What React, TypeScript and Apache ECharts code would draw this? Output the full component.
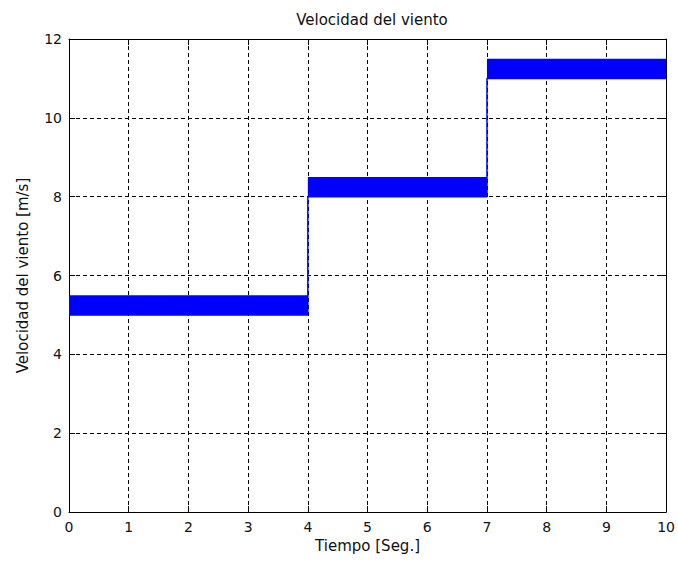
import React, { useEffect, useRef } from "react";
import * as echarts from "echarts";

// Wind speed steps: each segment oscillates densely between low and high
const segStart = [0, 4, 7];
const segEnd = [4, 7, 10];
const bandLow = [5, 8, 11];
const bandHigh = [5.5, 8.5, 11.5];

const xTicks = [0, 1, 2, 3, 4, 5, 6, 7, 8, 9, 10];
const yTicks = [0, 2, 4, 6, 8, 10, 12];

const FONT = "'DejaVu Sans', Arial, sans-serif";

export default function App() {
  const ref = useRef<HTMLDivElement>(null);

  useEffect(() => {
    if (!ref.current) return;
    const chart = echarts.init(ref.current, undefined, { renderer: "svg" });

    const bandData = segStart.map((s, i) => [s, segEnd[i], bandLow[i], bandHigh[i]]);
    const stepData: number[][] = [];
    segStart.forEach((s, i) => {
      stepData.push([s, bandLow[i]]);
      stepData.push([segEnd[i], bandLow[i]]);
    });

    const gridLine = { show: true, lineStyle: { color: "#000", type: [4, 3] as any, width: 1 } };
    const axisLine = { show: true, onZero: false, lineStyle: { color: "#000", width: 1 } };
    const tick = { show: true, inside: true, length: 6, lineStyle: { color: "#000" } };

    chart.setOption({
      animation: false,
      backgroundColor: "#fff",
      title: {
        text: "Velocidad del viento",
        left: 367,
        top: 7,
        textAlign: "center",
        textStyle: { fontFamily: FONT, fontSize: 15, fontWeight: "normal", color: "#111" },
      },
      grid: { left: 69, right: 8, top: 39, bottom: 53, containLabel: false },
      xAxis: [
        {
          type: "value",
          min: xTicks[0],
          max: xTicks[xTicks.length - 1],
          interval: 1,
          position: "bottom",
          name: "Tiempo [Seg.]",
          nameLocation: "middle",
          nameGap: 22,
          nameTextStyle: { fontFamily: FONT, fontSize: 15, color: "#111" },
          axisLine,
          axisTick: tick,
          axisLabel: { fontFamily: FONT, fontSize: 14, color: "#111", margin: 8 },
          splitLine: gridLine,
        },
        {
          type: "value",
          min: xTicks[0],
          max: xTicks[xTicks.length - 1],
          interval: 1,
          position: "top",
          axisLine,
          axisTick: tick,
          axisLabel: { show: false },
          splitLine: { show: false },
        },
      ],
      yAxis: [
        {
          type: "value",
          min: yTicks[0],
          max: yTicks[yTicks.length - 1],
          interval: 2,
          position: "left",
          name: "Velocidad del viento [m/s]",
          nameLocation: "middle",
          nameGap: 39,
          nameTextStyle: { fontFamily: FONT, fontSize: 15, color: "#111" },
          axisLine,
          axisTick: tick,
          axisLabel: { fontFamily: FONT, fontSize: 14, color: "#111", margin: 7 },
          splitLine: gridLine,
        },
        {
          type: "value",
          min: yTicks[0],
          max: yTicks[yTicks.length - 1],
          interval: 2,
          position: "right",
          axisLine,
          axisTick: tick,
          axisLabel: { show: false },
          splitLine: { show: false },
        },
      ],
      series: [
        {
          type: "custom",
          xAxisIndex: 0,
          yAxisIndex: 0,
          data: bandData,
          encode: { x: [0, 1], y: [2, 3] },
          renderItem: (_params: any, api: any) => {
            const p1 = api.coord([api.value(0), api.value(3)]);
            const p2 = api.coord([api.value(1), api.value(2)]);
            return {
              type: "rect",
              shape: { x: p1[0], y: p1[1], width: p2[0] - p1[0], height: p2[1] - p1[1] },
              style: { fill: "#0000ff" },
            };
          },
          z: 3,
        },
        {
          type: "line",
          xAxisIndex: 0,
          yAxisIndex: 0,
          data: stepData,
          showSymbol: false,
          lineStyle: { color: "#0000ff", width: 1.5 },
          z: 3,
        },
      ],
    });

    return () => chart.dispose();
  }, []);

  return (
    <div
      ref={ref}
      style={{ position: "fixed", left: 0, top: 0, width: 678, height: 565, background: "#fff" }}
    />
  );
}
